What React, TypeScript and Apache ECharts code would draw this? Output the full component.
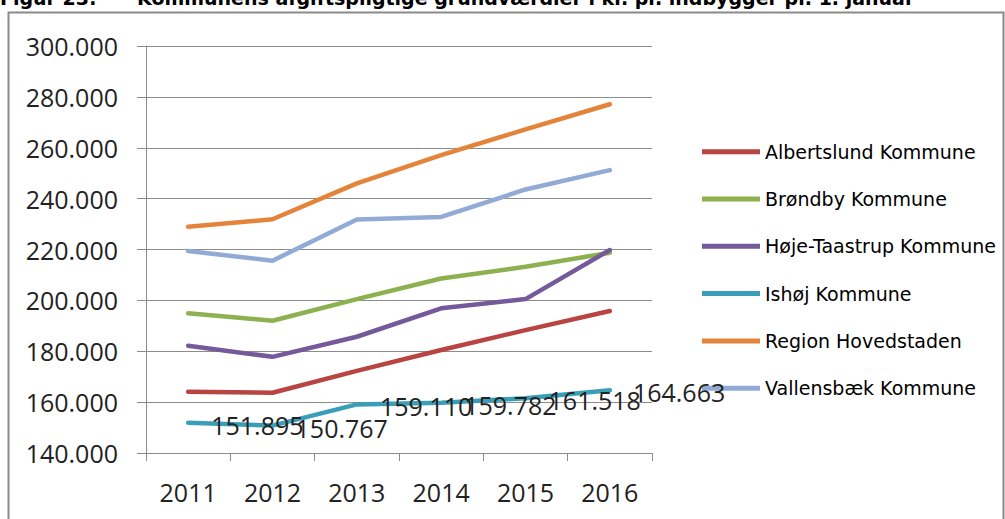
import React, { useEffect, useRef } from "react";
import * as echarts from "echarts";

const years = ["2011", "2012", "2013", "2014", "2015", "2016"];
const seriesNames = [
  "Albertslund Kommune",
  "Brøndby Kommune",
  "Høje-Taastrup Kommune",
  "Ishøj Kommune",
  "Region Hovedstaden",
  "Vallensbæk Kommune",
];
const albertslund = [164100, 163700, 172300, 180500, 188300, 195800];
const brondby = [194900, 192000, 200500, 208600, 213200, 218700];
const hojeTaastrup = [182200, 177800, 185700, 196900, 200500, 219800];
const ishoj = [151895, 150767, 159110, 159782, 161518, 164663];
const regionHovedstaden = [228900, 231900, 246000, 257100, 267200, 277100];
const vallensbaek = [219400, 215600, 231800, 232800, 243600, 251200];
const seriesColors = ["#B84541", "#8DB14F", "#74599B", "#3A9EB8", "#E4843A", "#91ABD6"];
const titleNumber = "Figur 23:";
const titleText = "Kommunens afgiftspligtige grundværdier i kr. pr. indbygger pr. 1. januar";

const fmt = (v: number) =>
  Math.round(v)
    .toString()
    .replace(/\B(?=(\d{3})+(?!\d))/g, ".");

export default function App() {
  const ref = useRef<HTMLDivElement>(null);
  useEffect(() => {
    if (!ref.current) return;
    const chart = echarts.init(ref.current, undefined, { renderer: "svg" });
    const values = [albertslund, brondby, hojeTaastrup, ishoj, regionHovedstaden, vallensbaek];
    const series = values.map((vals, i) => {
      const labelled = i === 3;
      return {
        name: seriesNames[i],
        type: "line",
        data: vals,
        symbol: labelled ? "circle" : "none",
        symbolSize: labelled ? 0.1 : 0,
        showSymbol: labelled,
        itemStyle: { color: seriesColors[i] },
        lineStyle: { width: 4.5, color: seriesColors[i], cap: "round", join: "round" },
        label: labelled
          ? {
              show: true,
              position: "right",
              distance: 23,
              formatter: (p: any) => fmt(p.value),
              fontFamily: "Open Sans",
              fontSize: 25,
              color: "#222",
              offset: [0, 2],
            }
          : { show: false },
        emphasis: { disabled: true },
        z: 2 + i,
      };
    });
    chart.setOption({
      animation: false,
      backgroundColor: "#fff",
      grid: { left: 146, top: 46, right: 353, bottom: 66, containLabel: false },
      graphic: [
        {
          type: "rect",
          shape: { x: 8.5, y: 12.5, width: 995, height: 530 },
          style: { fill: "none", stroke: "#8a8a8a", lineWidth: 2 },
          silent: true,
        },
        {
          type: "text",
          x: 0,
          y: -1.7,
          style: {
            text: titleNumber,
            fontFamily: "DejaVu Sans",
            fontWeight: "bold",
            fontSize: 19,
            fill: "#000",
            verticalAlign: "middle",
          },
        },
        {
          type: "text",
          x: 137,
          y: -1.7,
          style: {
            text: titleText,
            fontFamily: "DejaVu Sans",
            fontWeight: "bold",
            fontSize: 19,
            fill: "#000",
            verticalAlign: "middle",
          },
        },
      ],
      legend: {
        orient: "vertical",
        left: 702,
        top: 141.7,
        padding: 0,
        icon: "rect",
        itemWidth: 58,
        itemHeight: 5,
        itemGap: 27.3,
        data: seriesNames,
        textStyle: {
          fontFamily: "DejaVu Sans",
          fontSize: 19,
          lineHeight: 20,
          color: "#000",
        },
      },
      xAxis: {
        type: "category",
        data: years,
        boundaryGap: true,
        axisLine: { show: true, lineStyle: { color: "#8c8c8c", width: 1 } },
        axisTick: { show: true, length: 8, alignWithLabel: false, lineStyle: { color: "#8c8c8c" } },
        axisLabel: {
          margin: 26,
          fontFamily: "Open Sans",
          fontSize: 25,
          color: "#222",
        },
        splitLine: { show: false },
      },
      yAxis: {
        type: "value",
        min: 140000,
        max: 300000,
        interval: 20000,
        axisLine: { show: true, lineStyle: { color: "#8c8c8c", width: 1 } },
        axisTick: { show: true, length: 9, lineStyle: { color: "#8c8c8c" } },
        axisLabel: {
          margin: 28,
          fontFamily: "Open Sans",
          fontSize: 25,
          color: "#222",
          formatter: (v: number) => fmt(v),
        },
        splitLine: { show: true, lineStyle: { color: "#8c8c8c", width: 1 } },
      },
      series,
    });
    return () => chart.dispose();
  }, []);
  return (
    <div
      ref={ref}
      style={{ position: "fixed", left: 0, top: 0, width: 1005, height: 519, background: "#fff" }}
    />
  );
}
